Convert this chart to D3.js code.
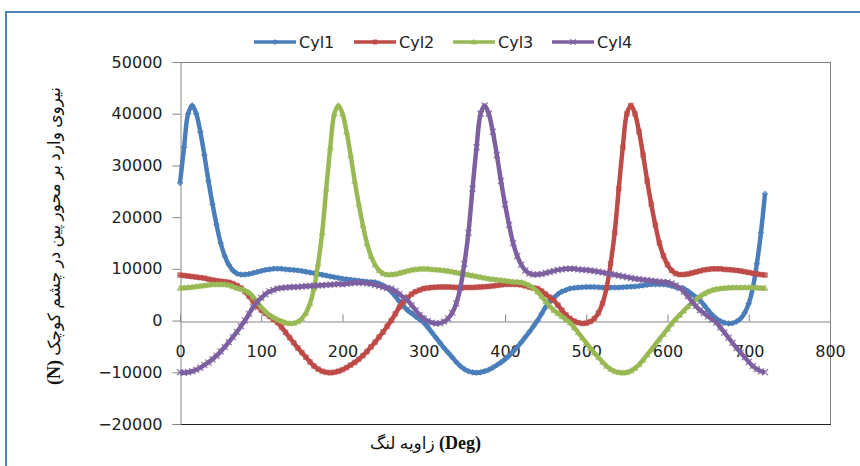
<!DOCTYPE html>
<html><head><meta charset="utf-8">
<script src="https://cdn.jsdelivr.net/npm/d3@7"></script>
<style>body{margin:0;background:#fff}svg{display:block}</style>
</head><body>
<svg id="c" width="860" height="466"></svg>
<script>
const angles = d3.range(0, 721, 5);
const seriesNames = ["Cyl1","Cyl2","Cyl3","Cyl4"];
const xTicks = [0,100,200,300,400,500,600,700,800];
const yTicks = [-20000,-10000,0,10000,20000,30000,40000,50000];
const yTitleFa = "نیروی وارد بر محور پین در چشم کوچک";
const yTitleEn = "(N)";
const xTitleFa = "زاویه لنگ";
const xTitleEn = "(Deg)";

const cyl1 = [26600,33500,40000,41600,40000,36500,32000,27000,22500,18500,
15000,12500,10800,9700,9100,8900,8900,9000,9200,9400,
9600,9800,9900,10000,10000,10000,9900,9850,9800,9700,
9600,9450,9300,9150,9000,8850,8700,8550,8400,8250,
8100,8000,7900,7800,7700,7600,7500,7450,7400,7150,
6800,6300,5600,4700,3700,2800,2000,1400,800,200,
-400,-1300,-2300,-3300,-4300,-5300,-6200,-7100,-8000,-8800,
-9400,-9800,-10000,-10100,-10000,-9800,-9500,-9100,-8600,-8100,
-7500,-6800,-6000,-5100,-4200,-3200,-2200,-1100,0,1300,
2600,3600,4400,5100,5600,5900,6200,6300,6400,6450,
6500,6500,6500,6450,6400,6400,6400,6400,6400,6450,
6500,6550,6600,6700,6800,6900,7000,7000,7000,7000,
6900,6700,6500,6300,6200,5700,5100,4500,3900,3000,
2000,1100,400,-100,-400,-550,-500,-200,400,1500,
3300,6300,11000,17000,24500];

const cyl2 = [8800,8700,8600,8500,8400,8300,8200,8000,7850,7700,
7600,7500,7400,7150,6800,6300,5600,4700,3700,2800,
2000,1400,800,200,-400,-1300,-2300,-3300,-4300,-5300,
-6200,-7100,-8000,-8800,-9400,-9800,-10000,-10100,-10000,-9800,
-9500,-9100,-8600,-8100,-7500,-6800,-6000,-5100,-4200,-3200,
-2200,-1100,0,1300,2600,3600,4400,5100,5600,5900,
6200,6300,6400,6450,6500,6500,6500,6450,6400,6400,
6400,6400,6400,6450,6500,6550,6600,6700,6800,6900,
7000,7000,7000,7000,6900,6700,6500,6300,6200,5700,
5100,4500,3900,3000,2000,1100,400,-100,-400,-550,
-500,-200,400,1500,3300,6300,11000,17000,25500,33500,
40000,41600,40000,36500,32000,27000,22500,18500,15000,12500,
10800,9700,9100,8900,8900,9000,9200,9400,9600,9800,
9900,10000,10000,10000,9900,9850,9800,9700,9600,9450,
9300,9150,9000,8900,8800];

const cyl3 = [6300,6350,6400,6500,6600,6700,6800,6900,7000,7000,
7000,7000,6900,6600,6300,6100,5800,5400,4600,3600,
2600,1800,1100,600,200,-100,-400,-550,-500,-200,
400,1500,3300,6300,11000,17000,25500,33500,40000,41600,
40000,36500,32000,27000,22500,18500,15000,12500,10800,9700,
9100,8900,8900,9000,9200,9400,9600,9800,9900,10000,
10000,10000,9900,9850,9800,9700,9600,9450,9300,9150,
9000,8850,8700,8550,8400,8250,8100,8000,7900,7800,
7700,7600,7500,7450,7400,7150,6800,6300,5600,4700,
3700,2800,2000,1400,800,200,-400,-1300,-2300,-3300,
-4300,-5300,-6200,-7100,-8000,-8800,-9400,-9800,-10000,-10100,
-10000,-9700,-9200,-8500,-7600,-6600,-5600,-4600,-3600,-2600,
-1600,-600,300,1100,1900,2700,3400,4100,4700,5200,
5600,5900,6100,6200,6300,6350,6400,6400,6400,6400,
6400,6400,6350,6300,6300];

const cyl4 = [-10000,-10100,-10000,-9800,-9500,-9100,-8600,-8100,-7500,-6800,
-6000,-5100,-4200,-3200,-2200,-1100,0,1300,2600,3600,
4400,5100,5600,5900,6200,6300,6400,6450,6500,6500,
6600,6650,6700,6750,6800,6850,6900,6950,7000,7050,
7000,7100,7200,7300,7300,7300,7200,7100,6900,6700,
6500,6300,6200,5700,5100,4500,3900,3000,2000,1100,
400,-100,-400,-550,-500,-200,400,1500,3300,6300,
11000,17000,25500,33500,40000,41600,40000,36500,32000,27000,
22500,18500,15000,12500,10800,9700,9100,8900,8900,9000,
9200,9400,9600,9800,9900,10000,10000,10000,9900,9850,
9800,9700,9600,9450,9300,9150,9000,8850,8700,8550,
8400,8250,8100,8000,7900,7800,7700,7600,7500,7450,
7400,7150,6800,6300,5600,4700,3700,2800,2000,1400,
800,200,-400,-1300,-2300,-3300,-4300,-5300,-6200,-7100,
-8000,-8800,-9400,-9800,-10000];

const seriesValues = [cyl1, cyl2, cyl3, cyl4];
const colors = ["#4A7EBB","#BE4B48","#98B954","#7D60A0"];
const markerKinds = ["diamond","square","triangle","x"];

const svg = d3.select("#c");
const L = 180, R = 830, T = 62, B = 424;
const x = d3.scaleLinear().domain([0,800]).range([L,R]);
const y = d3.scaleLinear().domain([-20000,50000]).range([B,T]);

// outer chart border
svg.append("rect").attr("x",6).attr("y",12).attr("width",900).attr("height",500)
  .attr("fill","none").attr("stroke","#4F81BD").attr("stroke-width",2);

// plot area border
svg.append("line").attr("x1",L).attr("x2",R).attr("y1",T+0.5).attr("y2",T+0.5).attr("stroke","#7f7f7f");
svg.append("line").attr("x1",R+0.5).attr("x2",R+0.5).attr("y1",T).attr("y2",B).attr("stroke","#7f7f7f");
svg.append("line").attr("x1",L).attr("x2",R+1).attr("y1",B+0.5).attr("y2",B+0.5).attr("stroke","#222");

// y axis
const yAxis = d3.axisLeft(y).tickValues(yTicks).tickSize(8).tickPadding(10).tickFormat(d3.format("d"));
const gy = svg.append("g").attr("transform",`translate(${L+0.5},0)`).call(yAxis);
gy.select(".domain").attr("stroke","#868686");
gy.selectAll(".tick line").attr("stroke","#868686");
gy.selectAll(".tick text").attr("font-family","DejaVu Sans, Verdana, sans-serif").attr("font-size",16).attr("fill","#222");

// x axis at y=0
const xAxis = d3.axisTop(x).tickValues(xTicks).tickSize(7).tickFormat(d3.format("d"));
const gx = svg.append("g").attr("transform",`translate(0,${Math.round(y(0))+0.5})`).call(xAxis);
gx.select(".domain").attr("stroke","#868686");
gx.selectAll(".tick line").attr("stroke","#868686");
gx.selectAll(".tick text").attr("font-family","DejaVu Sans, Verdana, sans-serif").attr("font-size",16).attr("fill","#222")
  .attr("y",30).attr("dy","0.35em");

function markerPath(kind, s){
  if(kind==="diamond") return `M0,${-s}L${s},0L0,${s}L${-s},0Z`;
  if(kind==="square") return `M${-s*0.8},${-s*0.8}h${s*1.6}v${s*1.6}h${-s*1.6}Z`;
  if(kind==="triangle") return `M0,${-s}L${s},${s*0.8}L${-s},${s*0.8}Z`;
  return `M${-s},${-s}L${s},${s}M${s},${-s}L${-s},${s}`;
}

const line = d3.line().x((d,i)=>x(angles[i])).y(d=>y(d)).curve(d3.curveCatmullRom.alpha(0.5));
seriesValues.forEach((vals,k)=>{
  const g = svg.append("g");
  g.append("path").attr("d",line(vals)).attr("fill","none").attr("stroke",colors[k])
    .attr("stroke-width",4.5).attr("stroke-linejoin","round");
  g.selectAll("path.m").data(vals).enter().append("path").attr("class","m")
    .attr("transform",(d,i)=>`translate(${x(angles[i])},${y(d)})`)
    .attr("d",markerPath(markerKinds[k],3))
    .attr("fill",markerKinds[k]==="x"?"none":colors[k])
    .attr("stroke",colors[k]).attr("stroke-width",markerKinds[k]==="x"?1.4:0.6)
    .attr("opacity",0.8);
});

// legend
const legX = [254,354,453,552];
seriesNames.forEach((n,k)=>{
  const g = svg.append("g").attr("transform",`translate(${legX[k]},42)`);
  g.append("line").attr("x1",0).attr("x2",42).attr("y1",0).attr("y2",0).attr("stroke",colors[k]).attr("stroke-width",3.5);
  g.append("path").attr("transform","translate(21,0)").attr("d",markerPath(markerKinds[k],2.6))
    .attr("fill",markerKinds[k]==="x"?"none":colors[k]).attr("stroke",colors[k]).attr("stroke-width",markerKinds[k]==="x"?1.3:0.6);
  g.append("text").attr("x",45).attr("y",0).attr("dy","0.35em").text(n)
    .attr("font-family","DejaVu Sans, Verdana, sans-serif").attr("font-size",16).attr("fill","#222");
});

// y title
const yt = svg.append("text").attr("transform","translate(54,236) rotate(-90)").attr("text-anchor","middle")
  .attr("direction","rtl").attr("font-family","Liberation Serif, DejaVu Sans, serif").attr("font-size",17)
  .attr("fill","#111").attr("dy","0.35em");
yt.append("tspan").text(yTitleFa + " ");
yt.append("tspan").attr("font-weight","bold").attr("font-size",18).text(yTitleEn);

// x title
const xt = svg.append("text").attr("x",481).attr("y",443).attr("text-anchor","end").attr("dy","0.35em")
  .attr("font-family","Liberation Serif, DejaVu Sans, serif").attr("font-size",17).attr("fill","#111");
xt.append("tspan").text(xTitleFa + " ");
xt.append("tspan").attr("font-weight","bold").attr("font-size",18).text(xTitleEn);
</script>
</body></html>
